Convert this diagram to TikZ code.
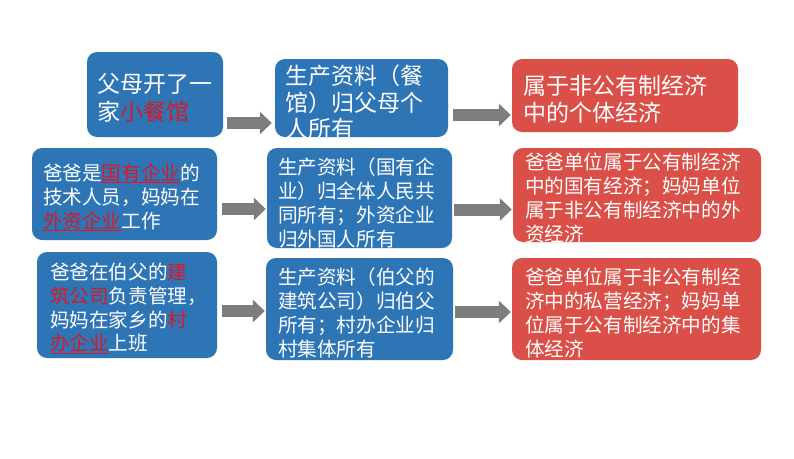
\documentclass[tikz,border=0pt]{standalone}
\usepackage{fontspec}
\setmainfont{Noto Sans CJK SC}
\usetikzlibrary{arrows.meta}
\definecolor{boxblue}{RGB}{46,117,182}
\definecolor{boxred}{RGB}{218,79,71}
\definecolor{hired}{RGB}{215,25,38}
\definecolor{arrgray}{RGB}{125,125,125}
\newcommand{\hl}[1]{\textcolor{hired}{#1}}
\newsavebox{\hlbox}
\newcommand{\hlu}[1]{\textcolor{hired}{\sbox{\hlbox}{#1}\rlap{\rule[-0.13em]{\wd\hlbox}{0.05em}}\usebox{\hlbox}}}
\tikzset{
  bluebox/.style={fill=boxblue, draw=none, rounded corners=10pt, inner sep=0pt},
  redbox/.style={fill=boxred, draw=none, rounded corners=10pt, inner sep=0pt},
  txt/.style={text=white, inner sep=0pt, anchor=north west, align=left},
  bigtxt/.style={txt, font=\fontsize{23}{26.5}\selectfont},
  smalltxt/.style={txt, font=\fontsize{19.6}{23.8}\selectfont},
  bigarrow/.style={draw=arrgray, line width=12pt, -{Triangle[length=12pt,width=22pt]}}
}
\begin{document}
\begin{tikzpicture}[x=1pt,y=1pt]
\useasboundingbox[fill=white] (0,0) rectangle (794,-458);
% row 1
\node[bluebox, minimum width=136pt, minimum height=85pt] (b1) at (155,-94.5) {};
\node[bluebox, minimum width=173pt, minimum height=78pt] (b2) at (361.5,-98) {};
\node[redbox, minimum width=226pt, minimum height=73pt] (b3) at (625,-95.5) {};
% row 2
\node[bluebox, minimum width=185pt, minimum height=92pt] (b4) at (124.5,-194) {};
\node[bluebox, minimum width=185pt, minimum height=100pt] (b5) at (359.5,-198) {};
\node[redbox, minimum width=248pt, minimum height=94pt] (b6) at (637,-195) {};
% row 3
\node[bluebox, minimum width=180pt, minimum height=106pt] (b7) at (127,-305) {};
\node[bluebox, minimum width=187pt, minimum height=102pt] (b8) at (359.5,-309) {};
\node[redbox, minimum width=249pt, minimum height=102pt] (b9) at (636.5,-309) {};
% texts
\node[bigtxt, font=\fontsize{23}{28}\selectfont] (t1) at ([shift={(10,-21)}]b1.north west) {父母开了一\\家\hl{小餐馆}};
\node[bigtxt] (t2) at ([shift={(10,-6)}]b2.north west) {生产资料（餐\\馆）归父母个\\人所有};
\node[bigtxt, font=\fontsize{23}{27}\selectfont] (t3) at ([shift={(11,-16)}]b3.north west) {属于非公有制经济\\中的个体经济};
\node[smalltxt] (t4) at ([shift={(11,-16)}]b4.north west) {爸爸是\hlu{国有企业}的\\技术人员，妈妈在\\\hlu{外资企业}工作};
\node[smalltxt] (t5) at ([shift={(11,-10)}]b5.north west) {生产资料（国有企\\业）归全体人民共\\同所有；外资企业\\归外国人所有};
\node[smalltxt] (t6) at ([shift={(12,-5)}]b6.north west) {爸爸单位属于公有制经济\\中的国有经济；妈妈单位\\属于非公有制经济中的外\\资经济};
\node[smalltxt] (t7) at ([shift={(13,-11)}]b7.north west) {爸爸在伯父的\hl{建}\\\hl{筑公司}负责管理，\\妈妈在家乡的\hl{村}\\\hlu{办企业}上班};
\node[smalltxt] (t8) at ([shift={(12,-10)}]b8.north west) {生产资料（伯父的\\建筑公司）归伯父\\所有；村办企业归\\村集体所有};
\node[smalltxt] (t9) at ([shift={(13,-10)}]b9.north west) {爸爸单位属于非公有制经\\济中的私营经济；妈妈单\\位属于公有制经济中的集\\体经济};
% arrows
\draw[bigarrow] ([shift={(4,-28.5)}]b1.east) -- ([shift={(-3,-25)}]b2.west);
\draw[bigarrow] ([shift={(5,-17)}]b2.east) -- ([shift={(-1,-19.5)}]b3.west);
\draw[bigarrow] ([shift={(5,-15)}]b4.east) -- ([shift={(-1,-11)}]b5.west);
\draw[bigarrow] ([shift={(2,-11.5)}]b5.east) -- ([shift={(-1,-14.5)}]b6.west);
\draw[bigarrow] ([shift={(5,-6)}]b7.east) -- ([shift={(-1,-2)}]b8.west);
\draw[bigarrow] ([shift={(2,-3)}]b8.east) -- ([shift={(-1,-3)}]b9.west);
\end{tikzpicture}
\end{document}
